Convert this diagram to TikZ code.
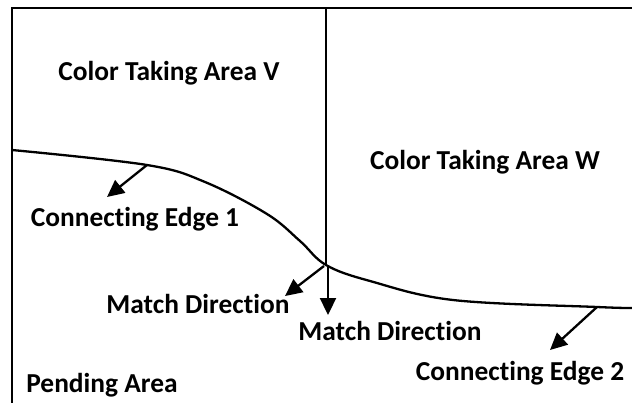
\documentclass[tikz,border=0pt]{standalone}
\usepackage{fontspec}
\setmainfont{Carlito}[Ligatures=NoCommon]
\usetikzlibrary{arrows.meta}
\begin{document}
\begin{tikzpicture}[x=1pt,y=-1pt,
  lbl/.style={font=\fontsize{27.4}{31}\selectfont\bfseries, inner sep=0pt},
  edge/.style={line width=2.3pt, black},
  pointer/.style={line width=2.3pt, -{Triangle[length=17pt,width=16pt]}}]
\useasboundingbox (0,0) rectangle (632,402);
% frame
\coordinate (tl) at (12,8);
\coordinate (tr) at (633,8);
\coordinate (bl) at (12,403);
\coordinate (dtop) at (326,8);
\coordinate (x) at (326,265);
\draw[edge] (tr) -- (tl) -- (bl);
\draw[edge] (dtop) -- (x);
% curve
\draw[edge] plot[smooth, tension=0.6] coordinates {(12,150) (147,165) (205,182) (267,214) (300,241) (326,265) (370,281) (453,300) (597,307) (633,308)};
% labels
\node[lbl] (v) at (169,73) {Color Taking Area V};
\node[lbl] (w) at (485,162) {Color Taking Area W};
\node[lbl] (e1) at (135,219) {Connecting Edge 1};
\node[lbl] (m1) at (198,304) {Match Direction};
\node[lbl] (m2) at (390,331) {Match Direction};
\node[lbl] (e2) at (520,373) {Connecting Edge 2};
\node[lbl] (p) at (102,385) {Pending Area};
% pointers
\coordinate (a1s) at (147,165);
\coordinate (a1e) at (107,197);
\coordinate (a2s) at (324,266);
\coordinate (a2e) at (285,296);
\coordinate (a3s) at (328,266);
\coordinate (a3e) at (328,315);
\coordinate (a4s) at (597,307);
\coordinate (a4e) at (550,350);
\draw[pointer] (a1s) -- (a1e);
\draw[pointer] (a2s) -- (a2e);
\draw[pointer] (a3s) -- (a3e);
\draw[pointer] (a4s) -- (a4e);
\end{tikzpicture}
\end{document}
